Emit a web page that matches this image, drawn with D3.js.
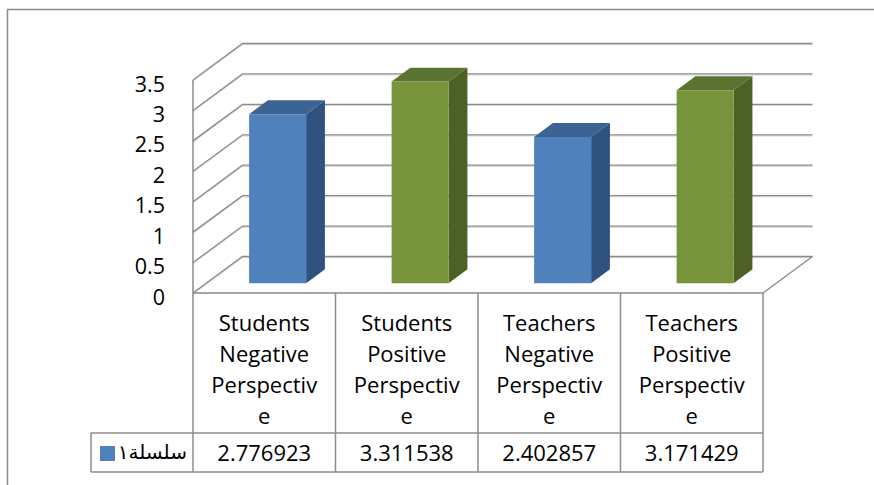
<!DOCTYPE html>
<html>
<head>
<meta charset="utf-8">
<script src="https://cdn.jsdelivr.net/npm/d3@7"></script>
<style>
  html, body { margin: 0; padding: 0; background: #fff; }
  svg { display: block; }
  text { font-family: "Open Sans", "Noto Sans", sans-serif; fill: #000; }
</style>
</head>
<body>
<svg id="chart" width="874" height="485"></svg>
<script>
// Chart data
const categories = [
  "Students Negative Perspective",
  "Students Positive Perspective",
  "Teachers Negative Perspective",
  "Teachers Positive Perspective"
];
// Category labels as they wrap inside the data-table cells
const categoryLines = [
  ["Students", "Negative", "Perspectiv", "e"],
  ["Students", "Positive", "Perspectiv", "e"],
  ["Teachers", "Negative", "Perspectiv", "e"],
  ["Teachers", "Positive", "Perspectiv", "e"]
];
const values = [2.776923, 3.311538, 2.402857, 3.171429];
const valueLabels = ["2.776923", "3.311538", "2.402857", "3.171429"];
const yTicks = [0, 0.5, 1, 1.5, 2, 2.5, 3, 3.5];
const seriesName = "سلسلة١";

// Face colours per point (front, side, top)
const palette = [
  { front: "#4F81BD", side: "#30527F", top: "#3B6494" },
  { front: "#77933C", side: "#4D6127", top: "#5B7331" }
];

const svg = d3.select("#chart");

// Plot geometry: front floor edge, wall depth offset
const x0 = 193, x1 = 763;
const DX = 49.5, DY = 36.5;
const zFront = 0.27, zBack = 0.65;

const x = d3.scaleBand().domain(categories).range([x0, x1])
  .paddingInner(0.6).paddingOuter(0.3);
const y = d3.scaleLinear().domain([0, 3.5]).range([293, 80]);

// Oblique projection: category position, value, depth (0 front .. 1 back)
const proj = (px, v, z) => [px + z * DX, y(v) - z * DY];
const line = d3.line();

const gridColor = "#8A8A8A";

// Outer chart frame
svg.append("rect")
  .attr("x", 7.5).attr("y", 9.5).attr("width", 1000).attr("height", 1000)
  .attr("fill", "none").attr("stroke", "#8C8C8C").attr("stroke-width", 1.5);

// Gridlines on side and back walls
const grid = svg.append("g");
yTicks.forEach(v => {
  const pts = [proj(x0, v, 0), proj(x0, v, 1), proj(x1, v, 1)];
  grid.append("path")
    .attr("d", line(pts.map(p => [p[0], p[1] + 1.2])))
    .attr("fill", "none").attr("stroke", "#D6D6D6").attr("stroke-width", 1);
  grid.append("path")
    .attr("d", line(pts))
    .attr("fill", "none").attr("stroke", gridColor).attr("stroke-width", 1.3);
});

// Floor right edge
grid.append("path")
  .attr("d", line([proj(x1, 0, 0), proj(x1, 0, 1)]))
  .attr("fill", "none").attr("stroke", gridColor).attr("stroke-width", 1.3);

// Vertical axis line
grid.append("path")
  .attr("d", line([proj(x0, 0, 0), proj(x0, 3.5, 0)]))
  .attr("fill", "none").attr("stroke", gridColor).attr("stroke-width", 1.5);

// Tick labels
svg.append("g").selectAll("text").data(yTicks).join("text")
  .attr("x", 165).attr("y", d => y(d) + 3)
  .attr("text-anchor", "end").attr("dominant-baseline", "central")
  .attr("font-size", 21.5)
  .text(d => d);

// Bars as boxes
const bars = svg.append("g");
categories.forEach((c, i) => {
  const v = values[i];
  const col = palette[i % 2];
  const xl = x(c), xr = x(c) + x.bandwidth();
  const side = [proj(xr, 0, zFront), proj(xr, 0, zBack), proj(xr, v, zBack), proj(xr, v, zFront)];
  const top = [proj(xl, v, zFront), proj(xr, v, zFront), proj(xr, v, zBack), proj(xl, v, zBack)];
  const front = [proj(xl, 0, zFront), proj(xr, 0, zFront), proj(xr, v, zFront), proj(xl, v, zFront)];
  bars.append("path").attr("d", line(side) + "Z").attr("fill", col.side);
  bars.append("path").attr("d", line(top) + "Z").attr("fill", col.top);
  bars.append("path").attr("d", line(front) + "Z").attr("fill", col.front);
});

// Data table under the plot
const rowTop = y(0), rowMid = 433, rowBottom = 472;
const legendLeft = 91;
const table = svg.append("g");
const tableColor = "#8C8C8C";
const step = x.step();
const colEdges = d3.range(categories.length + 1).map(k => x0 + k * step);

table.selectAll("line.v").data(colEdges).join("line")
  .attr("x1", d => d).attr("x2", d => d)
  .attr("y1", rowTop).attr("y2", rowBottom)
  .attr("stroke", tableColor).attr("stroke-width", 1.5);
table.append("line")
  .attr("x1", x0).attr("x2", x1).attr("y1", rowTop).attr("y2", rowTop)
  .attr("stroke", gridColor).attr("stroke-width", 1.5);
table.append("line")
  .attr("x1", legendLeft).attr("x2", x1).attr("y1", rowMid).attr("y2", rowMid)
  .attr("stroke", tableColor).attr("stroke-width", 1.5);
table.append("line")
  .attr("x1", legendLeft).attr("x2", x1).attr("y1", rowBottom).attr("y2", rowBottom)
  .attr("stroke", tableColor).attr("stroke-width", 1.5);
table.append("line")
  .attr("x1", legendLeft).attr("x2", legendLeft).attr("y1", rowMid).attr("y2", rowBottom)
  .attr("stroke", tableColor).attr("stroke-width", 1.5);

// Category label cells
const lineYs = [322, 353, 384, 415];
categories.forEach((c, i) => {
  const cx = x0 + (i + 0.5) * step;
  table.append("g").selectAll("text").data(categoryLines[i]).join("text")
    .attr("x", cx).attr("y", (d, k) => lineYs[k])
    .attr("text-anchor", "middle").attr("dominant-baseline", "central")
    .attr("font-size", 22)
    .text(d => d);
  table.append("text")
    .attr("x", cx).attr("y", 452)
    .attr("text-anchor", "middle").attr("dominant-baseline", "central")
    .attr("font-size", 22)
    .text(valueLabels[i]);
});

// Legend key in the series row
table.append("rect")
  .attr("x", 100).attr("y", 446).attr("width", 15).attr("height", 15)
  .attr("fill", palette[0].front);
table.append("text")
  .attr("x", 187).attr("y", 452)
  .attr("text-anchor", "end").attr("dominant-baseline", "central")
  .attr("font-size", 20)
  .style("font-family", "'DejaVu Sans', sans-serif")
  .text(seriesName);
</script>
</body>
</html>
